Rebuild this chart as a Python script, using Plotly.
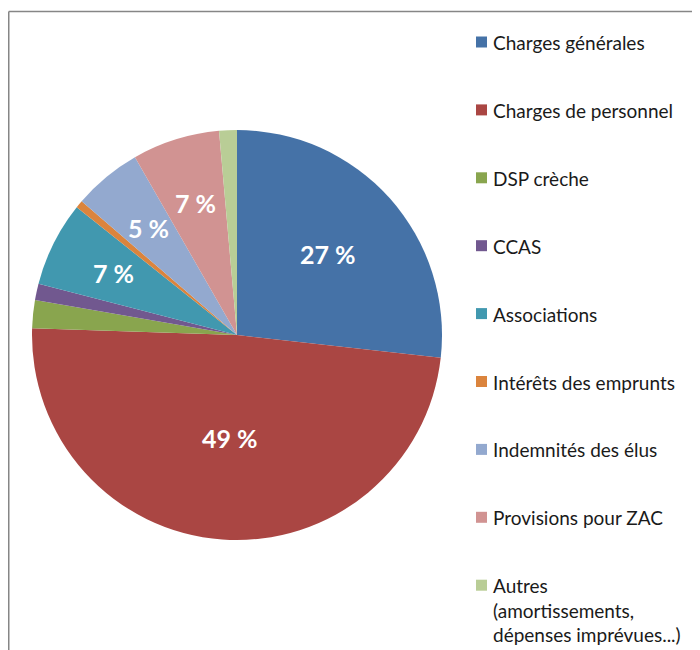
import math
import plotly.graph_objects as go

categories = [
    "Charges générales",
    "Charges de personnel",
    "DSP crèche",
    "CCAS",
    "Associations",
    "Intérêts des emprunts",
    "Indemnités des élus",
    "Provisions pour ZAC",
    "Autres<br>(amortissements,<br>dépenses imprévues...)",
]
values = [26.8, 48.8, 2.2, 1.3, 6.7, 0.6, 5.4, 6.9, 1.4]
colors = ["#4572A7", "#AA4643", "#89A54E", "#71588F", "#4198AF",
          "#DB843D", "#93A9CF", "#D19392", "#B9CD96"]

# the page body has an 8px margin: figure is 692x642 placed at (8, 8)
OFF = 8
W, H = 700 - OFF, 650 - OFF


def px(x):
    return (x - OFF) / W


def py(y):
    return 1 - (y - OFF) / H


# pie geometry (page pixels)
CX, CY, R = 237, 335, 205

fig = go.Figure(go.Pie(
    labels=categories,
    values=values,
    textinfo="none",
    marker=dict(colors=colors, line=dict(width=0)),
    sort=False,
    direction="clockwise",
    rotation=0,
    showlegend=False,
    hoverinfo="label+percent",
    domain=dict(x=[px(CX - R), px(CX + R)], y=[py(CY + R), py(CY - R)]),
))

shapes = []
annotations = []

# data labels (Excel-like placement along each slice bisector)
total = sum(values)
cum = 0.0
for v in values:
    share = v / total
    mid = (cum + share / 2) * 2 * math.pi
    cum += share
    if share < 0.045:
        continue
    r = R * (0.7 - 0.4 * share)
    x = CX + r * math.sin(mid)
    y = CY - r * math.cos(mid)
    annotations.append(dict(xref="paper", yref="paper", x=px(x), y=py(y),
                            xanchor="center", yanchor="middle",
                            text=f"{round(share * 100)} %", showarrow=False,
                            font=dict(family="Lato", size=25, color="white",
                                      weight="bold")))

# manual legend (Excel-like spacing)
y0 = 42
step = 67.9
for i, (cat, col) in enumerate(zip(categories, colors)):
    yc = y0 + i * step
    shapes.append(dict(type="rect", xref="paper", yref="paper",
                       x0=px(476), x1=px(487),
                       y0=py(yc + 5.5), y1=py(yc - 5.5),
                       fillcolor=col, line=dict(width=0)))
    annotations.append(dict(xref="paper", yref="paper", x=px(491), y=py(yc - 13),
                            xanchor="left", yanchor="top", align="left",
                            text=cat, showarrow=False,
                            font=dict(family="Lato", size=19, color="#1a1a1a")))

# frame lines (top and left)
shapes.append(dict(type="line", xref="paper", yref="paper",
                   x0=px(8.75), x1=1, y0=py(11.5), y1=py(11.5),
                   line=dict(color="#868686", width=1.5)))
shapes.append(dict(type="line", xref="paper", yref="paper",
                   x0=px(8.75), x1=px(8.75), y0=0, y1=py(11.5),
                   line=dict(color="#868686", width=1.5)))

fig.update_layout(
    width=W, height=H,
    margin=dict(l=0, r=0, t=0, b=0),
    paper_bgcolor="white",
    plot_bgcolor="white",
    shapes=shapes,
    annotations=annotations,
)

fig.write_html("out.html")
